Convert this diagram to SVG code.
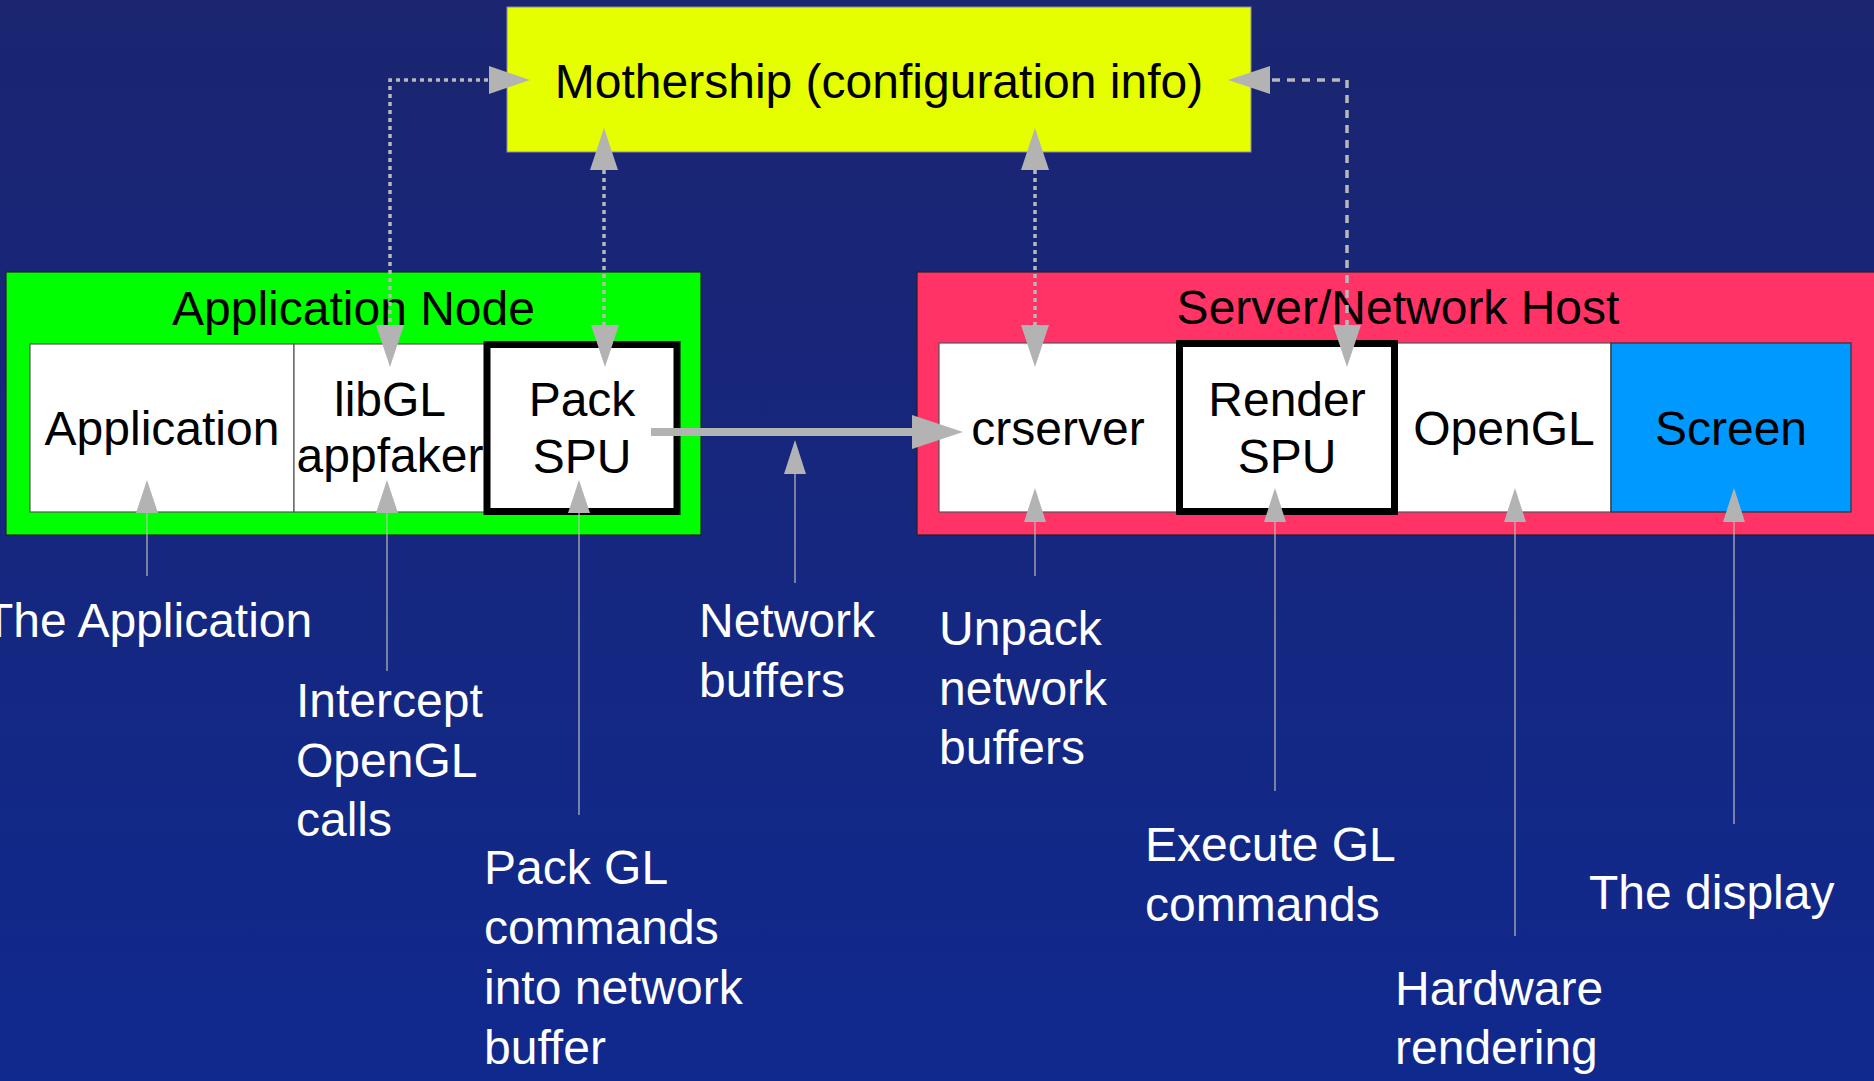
<svg xmlns="http://www.w3.org/2000/svg" width="1874" height="1081" viewBox="0 0 1874 1081">
<defs>
<linearGradient id="bg" x1="0" y1="0" x2="0" y2="1">
<stop offset="0" stop-color="#1b2570"/>
<stop offset="1" stop-color="#10298e"/>
</linearGradient>
</defs>
<style>
text{font-family:"Liberation Sans",Arial,sans-serif;font-size:48px}
.blk{fill:#000;text-anchor:middle}
.wht{fill:#fff}
.cell{fill:#fff;stroke:#555;stroke-width:1.2}
.spu{fill:#fff;stroke:#000;stroke-width:7}
.head{fill:#b3b3b3;stroke:none}
.dot{fill:none;stroke:#b8b8b8;stroke-width:3.5;stroke-dasharray:4 4}
.dash{fill:none;stroke:#b8b8b8;stroke-width:3.5;stroke-dasharray:8 7}
.thin{stroke:#bdbdbd;stroke-width:1.2}
</style>
<rect x="0" y="0" width="1874" height="1081" fill="url(#bg)"/>

<g id="mothership">
<rect x="507" y="7" width="744" height="145" fill="#e6ff00" stroke="#8a8aa8" stroke-width="1"/>
<text class="blk" x="879" y="98">Mothership (configuration info)</text>
</g>

<g id="application-node">
<rect x="6" y="272" width="695" height="263" fill="#00ff00" stroke="#222" stroke-width="1.2"/>
<text class="blk" x="353.5" y="325">Application Node</text>
</g>
<g id="application">
<rect class="cell" x="30" y="344" width="264" height="168"/>
<text class="blk" x="162" y="445">Application</text>
</g>
<g id="libgl">
<rect class="cell" x="294" y="344" width="193" height="168"/>
<text class="blk" x="390" y="416">libGL</text>
<text class="blk" x="390" y="472">appfaker</text>
</g>
<g id="pack-spu">
<rect class="spu" x="487" y="344.5" width="190" height="167"/>
<text class="blk" x="582" y="416">Pack</text>
<text class="blk" x="582" y="473">SPU</text>
</g>

<g id="server-host">
<rect x="917" y="272" width="962" height="263" fill="#ff3366" stroke="#222" stroke-width="1.2"/>
<text class="blk" x="1398" y="324">Server/Network Host</text>
</g>
<g id="crserver">
<rect class="cell" x="939" y="343" width="238" height="169"/>
<text class="blk" x="1058" y="445">crserver</text>
</g>
<g id="opengl">
<rect class="cell" x="1397" y="343" width="214" height="169"/>
<text class="blk" x="1504" y="445">OpenGL</text>
</g>
<g id="render-spu">
<rect class="spu" x="1179.5" y="343.5" width="215" height="168"/>
<text class="blk" x="1287" y="416">Render</text>
<text class="blk" x="1287" y="473">SPU</text>
</g>
<g id="screen">
<rect x="1611" y="343" width="240" height="169" fill="#0099ff" stroke="#333" stroke-width="1.2"/>
<text class="blk" x="1731" y="445">Screen</text>
</g>

<g id="labels">
<text class="wht" x="-16" y="637">The Application</text>
<text class="wht" x="296" y="717">Intercept</text>
<text class="wht" x="296" y="777">OpenGL</text>
<text class="wht" x="296" y="836">calls</text>
<text class="wht" x="484" y="884">Pack GL</text>
<text class="wht" x="484" y="944">commands</text>
<text class="wht" x="484" y="1004">into network</text>
<text class="wht" x="484" y="1064">buffer</text>
<text class="wht" x="699" y="637">Network</text>
<text class="wht" x="699" y="697">buffers</text>
<text class="wht" x="939" y="645">Unpack</text>
<text class="wht" x="939" y="705">network</text>
<text class="wht" x="939" y="764">buffers</text>
<text class="wht" x="1145" y="861">Execute GL</text>
<text class="wht" x="1145" y="921">commands</text>
<text class="wht" x="1589" y="909">The display</text>
<text class="wht" x="1395" y="1005">Hardware</text>
<text class="wht" x="1395" y="1064">rendering</text>
</g>

<g id="connectors">
<polyline class="dot" points="488,80 390,80 390,326"/>
<polygon class="head" points="530,80 489,66 489,94"/>
<polygon class="head" points="390,367 376,325 404,325"/>

<line class="dot" x1="604" y1="170" x2="604" y2="326"/>
<polygon class="head" points="604,128 590,170 618,170"/>
<polygon class="head" points="605,367 591,325 619,325"/>

<line class="dot" x1="1035" y1="170" x2="1035" y2="326"/>
<polygon class="head" points="1035,128 1021,170 1049,170"/>
<polygon class="head" points="1035,367 1021,325 1049,325"/>

<polyline class="dash" points="1272,80 1347,80 1347,326"/>
<polygon class="head" points="1228,80 1270,66 1270,94"/>
<polygon class="head" points="1347,367 1333,325 1361,325"/>

<line x1="651" y1="432" x2="914" y2="432" stroke="#b3b3b3" stroke-width="8"/>
<polygon class="head" points="963,432 912,415 912,449"/>

<line class="thin" x1="147" y1="512" x2="147" y2="576"/>
<polygon class="head" points="147,480 136,513 158,513"/>
<line class="thin" x1="387" y1="512" x2="387" y2="671"/>
<polygon class="head" points="387,480 376,513 398,513"/>
<line class="thin" x1="579" y1="512" x2="579" y2="815"/>
<polygon class="head" points="579,480 568,513 590,513"/>
<line class="thin" x1="795" y1="473" x2="795" y2="583"/>
<polygon class="head" points="795,440 784,474 806,474"/>
<line class="thin" x1="1035" y1="521" x2="1035" y2="576"/>
<polygon class="head" points="1035,488 1024,522 1046,522"/>
<line class="thin" x1="1275" y1="521" x2="1275" y2="791"/>
<polygon class="head" points="1275,488 1264,522 1286,522"/>
<line class="thin" x1="1515" y1="521" x2="1515" y2="936"/>
<polygon class="head" points="1515,488 1504,522 1526,522"/>
<line class="thin" x1="1734" y1="521" x2="1734" y2="824"/>
<polygon class="head" points="1734,488 1723,522 1745,522"/>
</g>
</svg>
